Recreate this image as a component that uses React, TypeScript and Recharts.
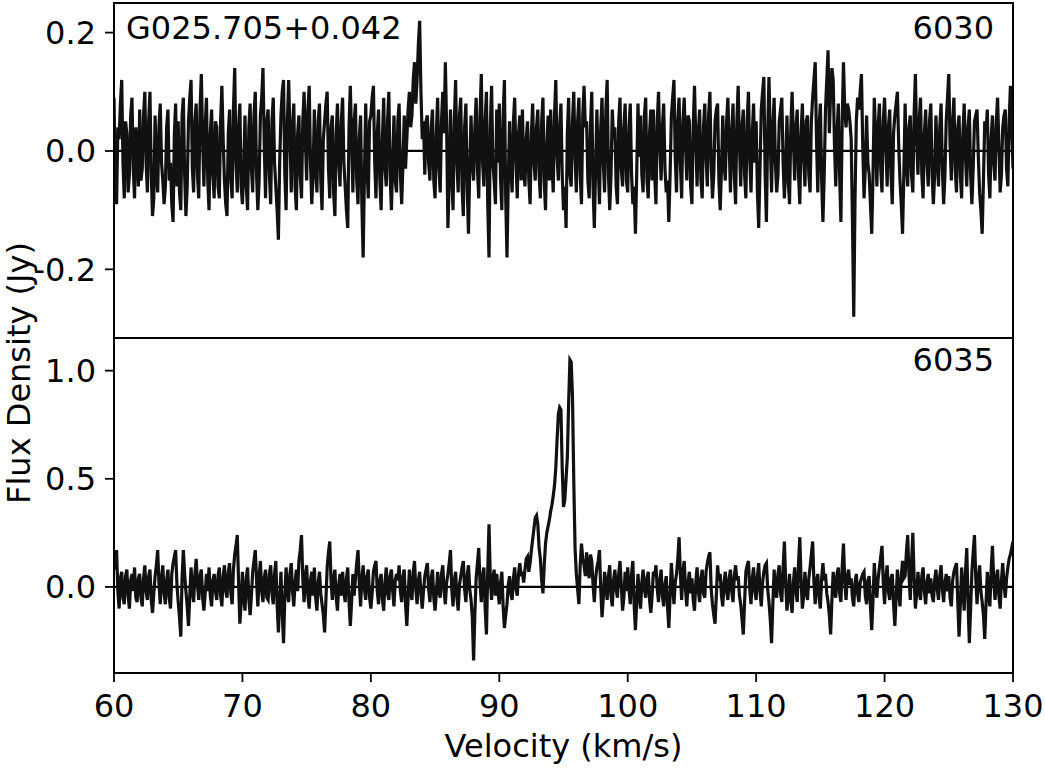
import { LineChart, Line, XAxis, YAxis, ReferenceLine, ReferenceArea } from "recharts";

// channel grid (km/s)
const V_START = 60;
const V_STEP = 0.1;

const velTicks = [60, 70, 80, 90, 100, 110, 120, 130];
const topTicks = [-0.2, 0, 0.2];
const bottomTicks = [0, 0.5, 1.0];

const sourceName = "G025.705+0.042";
const topFreq = "6030";
const bottomFreq = "6035";

// 6030 MHz spectrum (Jy), one value per channel, 2 km/s per row
const flux6030 = [
  0.09, -0.06, -0.09, 0.04, 0.02, 0.08, 0.12, -0.02, -0.08, 0.05, 0.03, -0.07, -0.04, 0.06, 0.09, -0.03, -0.08, 0.04, 0.01, -0.06,
  0.07, -0.05, -0.03, 0.06, 0.10, -0.02, -0.07, 0.05, 0.10, -0.04, -0.11, -0.08, 0.06, -0.03, -0.07, 0.04, 0.08, -0.02, -0.05, -0.09,
  -0.06, 0.04, 0.07, -0.05, -0.02, -0.09, -0.12, 0.03, 0.08, -0.06, 0.05, -0.07, -0.10, 0.06, 0.09, -0.04, -0.11, -0.06, 0.05, 0.09,
  0.12, -0.03, -0.07, 0.05, 0.08, -0.04, -0.08, 0.07, 0.13, 0.02, -0.06, 0.04, 0.09, -0.05, -0.10, 0.03, 0.07, -0.04, -0.08, 0.05,
  0.04, -0.06, -0.08, 0.05, 0.11, 0.02, -0.05, -0.09, -0.11, 0.03, 0.07, -0.05, -0.08, 0.07, 0.14, -0.02, -0.07, 0.04, 0.08, -0.06,
  -0.09, -0.03, 0.06, -0.06, -0.10, 0.04, 0.08, -0.03, -0.07, 0.06, 0.10, -0.04, -0.10, -0.05, 0.06, 0.09, 0.14, 0.01, -0.08, 0.05,
  0.07, -0.04, -0.09, 0.05, 0.09, -0.02, -0.06, -0.10, -0.15, -0.02, 0.06, 0.10, 0.12, -0.04, -0.10, 0.05, 0.12, 0.03, -0.07, 0.04,
  0.08, -0.06, -0.10, 0.03, 0.06, -0.04, -0.08, 0.05, 0.10, 0.02, -0.05, 0.07, 0.11, -0.02, -0.09, -0.04, 0.07, -0.03, -0.07, 0.05,
  0.08, -0.05, -0.10, 0.02, 0.05, 0.08, 0.10, -0.03, -0.08, 0.04, 0.06, -0.07, -0.11, 0.03, 0.08, -0.02, -0.06, 0.05, 0.09, -0.02,
  -0.06, -0.10, -0.13, 0.04, 0.11, 0.02, -0.07, 0.05, 0.08, -0.05, -0.09, 0.02, 0.06, -0.09, -0.18, -0.04, 0.08, -0.03, -0.08, 0.05,
  0.06, 0.09, 0.11, -0.02, -0.08, 0.03, 0.07, -0.05, -0.10, 0.02, 0.09, -0.03, -0.06, 0.05, 0.10, -0.04, -0.10, -0.02, 0.06, -0.05,
  -0.07, 0.05, 0.08, -0.04, -0.09, -0.02, 0.06, -0.03, 0.02, 0.07, 0.10, 0.04, 0.06, 0.12, 0.15, 0.08, 0.12, 0.18, 0.22, 0.10,
  0.02, 0.05, -0.04, 0.05, 0.06, -0.02, -0.05, 0.04, 0.07, -0.05, -0.08, 0.03, 0.09, -0.03, -0.07, 0.05, 0.10, 0.03, 0.15, 0.04,
  -0.13, -0.05, 0.07, -0.04, -0.10, 0.05, 0.12, -0.02, -0.07, 0.06, 0.09, -0.06, -0.11, 0.04, 0.08, -0.06, -0.14, -0.03, 0.06, -0.02,
  -0.05, 0.04, 0.09, -0.03, -0.08, 0.06, 0.13, -0.02, -0.06, 0.05, 0.10, -0.09, -0.18, 0.04, 0.11, -0.02, -0.05, -0.09, 0.07, -0.02,
  0.08, -0.05, -0.10, 0.06, 0.12, -0.08, -0.18, -0.05, 0.05, -0.03, -0.07, 0.05, 0.09, -0.02, -0.08, 0.03, 0.06, -0.05, 0.07, -0.03,
  -0.06, 0.02, 0.05, -0.05, -0.09, 0.03, 0.08, -0.02, -0.05, 0.04, 0.07, -0.04, -0.08, 0.05, 0.09, -0.05, -0.10, 0.01, 0.06, -0.05,
  0.07, -0.02, -0.07, 0.06, 0.12, -0.01, -0.05, 0.04, 0.08, -0.04, -0.10, -0.06, -0.13, 0.03, 0.09, -0.04, -0.06, 0.05, 0.10, -0.01,
  -0.07, 0.05, 0.09, -0.04, -0.09, 0.06, 0.11, 0.04, 0.05, -0.05, -0.08, 0.04, 0.10, -0.06, -0.13, -0.03, 0.07, -0.02, -0.09, 0.04,
  0.09, -0.02, -0.07, 0.07, 0.12, -0.04, -0.10, -0.04, 0.07, 0.02, 0.04, -0.06, -0.09, 0.05, 0.09, -0.03, -0.06, 0.04, 0.08, -0.05,
  -0.07, 0.04, 0.08, -0.04, -0.09, -0.06, -0.14, -0.04, 0.08, -0.01, 0.06, -0.04, -0.07, 0.06, 0.09, -0.05, -0.08, 0.03, 0.07, -0.05,
  0.07, -0.04, -0.09, 0.05, 0.10, 0.01, -0.05, 0.04, 0.08, -0.03, -0.07, -0.05, -0.12, -0.04, 0.06, 0.09, 0.12, -0.01, -0.07, 0.05,
  0.09, -0.02, -0.08, 0.05, 0.09, 0.01, -0.05, 0.06, 0.05, -0.06, -0.09, 0.04, 0.11, 0.02, -0.06, 0.03, 0.07, -0.05, -0.08, 0.04,
  0.08, -0.01, -0.06, 0.06, 0.10, -0.02, -0.08, -0.04, 0.05, 0.07, 0.08, -0.05, -0.10, -0.03, 0.06, -0.02, -0.05, 0.05, 0.09, 0.01,
  -0.07, 0.03, 0.08, -0.04, -0.09, 0.05, 0.11, 0.01, -0.06, 0.04, 0.07, -0.04, -0.08, 0.05, 0.10, -0.01, -0.07, 0.03, 0.08, -0.02,
  0.05, -0.07, -0.13, -0.03, 0.07, 0.10, 0.125, -0.04, -0.12, 0.03, 0.125, 0.02, -0.07, 0.04, 0.09, -0.02, -0.07, -0.04, 0.05, 0.07,
  0.09, -0.02, -0.08, -0.03, 0.06, -0.05, -0.09, 0.04, 0.10, 0.02, -0.05, 0.04, 0.07, -0.04, -0.09, 0.03, 0.08, -0.01, -0.06, 0.05,
  0.06, -0.04, -0.07, 0.05, 0.09, 0.12, 0.15, 0.02, -0.07, 0.04, 0.08, -0.05, -0.12, -0.04, 0.07, 0.12, 0.17, 0.03, 0.10, 0.14,
  0.12, 0.01, -0.06, 0.03, 0.08, -0.04, -0.12, 0.05, 0.15, 0.07, 0.04, 0.08, 0.07, 0.05, 0.02, -0.12, -0.28, -0.08, 0.05, 0.09,
  0.07, 0.10, 0.13, 0.01, -0.08, -0.03, 0.06, -0.02, -0.04, -0.09, -0.14, -0.04, 0.09, 0.03, -0.06, 0.04, 0.08, -0.03, -0.07, 0.05,
  0.09, 0.01, -0.06, 0.04, 0.07, -0.04, -0.09, 0.03, 0.06, 0.08, 0.10, 0.01, -0.05, -0.09, -0.14, -0.04, 0.08, -0.02, -0.06, 0.04,
  0.06, -0.04, -0.07, 0.06, 0.13, 0.02, -0.04, 0.05, 0.09, -0.04, -0.08, 0.03, 0.07, -0.02, -0.06, 0.05, 0.08, -0.04, -0.09, -0.04,
  0.06, -0.01, -0.06, 0.04, 0.08, -0.03, -0.09, -0.04, 0.05, 0.09, 0.13, 0.01, -0.05, 0.05, 0.09, -0.03, -0.07, 0.04, 0.06, -0.04,
  -0.08, 0.03, 0.08, -0.01, -0.06, 0.04, 0.07, -0.04, -0.09, -0.03, 0.05, 0.06, 0.07, -0.01, -0.07, -0.10, -0.14, -0.05, 0.05, 0.03,
  0.07, -0.04, -0.08, 0.02, 0.06, -0.02, -0.05, 0.05, 0.09, 0.01, -0.07, -0.04, 0.04, 0.06, 0.07, -0.03, -0.06, 0.05, 0.11, 0.04,
  -0.03,
];

// 6035 MHz spectrum (Jy)
const flux6035 = [
  0.15, 0.08, 0.17, -0.02, -0.10, 0.04, 0.07, -0.05, -0.08, 0.05, 0.08, -0.04, -0.10, 0.03, 0.06, -0.02, 0.09, -0.05, -0.07, 0.04,
  0.06, -0.05, -0.09, 0.04, 0.10, -0.02, -0.06, 0.05, 0.08, -0.06, -0.12, -0.03, 0.05, 0.10, 0.17, 0.02, -0.08, 0.04, 0.10, -0.03,
  -0.08, 0.03, 0.08, -0.05, -0.10, 0.06, 0.11, 0.14, 0.17, 0.01, -0.07, -0.14, -0.23, 0.04, 0.17, 0.06, -0.02, -0.09, -0.18, -0.04,
  0.09, -0.02, -0.07, 0.06, 0.13, 0.01, -0.06, 0.05, 0.08, -0.05, -0.11, -0.03, 0.06, -0.02, 0.09, -0.04, -0.09, 0.03, 0.06, -0.02,
  -0.06, 0.05, 0.09, -0.04, -0.09, 0.05, 0.10, -0.02, -0.05, 0.07, 0.11, -0.03, -0.08, 0.08, 0.15, 0.19, 0.24, 0.02, -0.17, -0.07,
  0.07, -0.05, -0.11, 0.04, 0.09, -0.06, -0.13, -0.04, 0.07, 0.12, 0.17, 0.03, -0.09, 0.05, 0.12, -0.02, -0.07, 0.04, 0.08, -0.05,
  -0.06, 0.06, 0.10, -0.03, -0.08, 0.06, 0.12, -0.08, -0.21, -0.06, 0.07, -0.12, -0.26, -0.05, 0.09, -0.02, -0.07, 0.06, 0.11, -0.02,
  -0.09, 0.02, 0.08, -0.02, 0.12, 0.17, 0.24, 0.04, -0.07, 0.05, 0.10, -0.04, -0.10, 0.03, 0.07, -0.04, 0.09, -0.05, -0.11, 0.02,
  0.07, -0.03, -0.08, -0.13, -0.21, -0.06, 0.09, 0.16, 0.21, 0.03, -0.06, 0.04, 0.08, -0.05, -0.11, 0.01, 0.06, -0.04, 0.07, -0.02,
  -0.07, 0.04, 0.09, -0.07, -0.18, -0.07, 0.06, -0.04, 0.04, 0.11, 0.17, 0.02, -0.09, 0.04, 0.10, -0.01, -0.06, 0.05, 0.08, -0.05,
  -0.10, -0.03, 0.07, 0.10, 0.12, -0.02, -0.08, 0.03, 0.06, -0.06, -0.11, 0.02, 0.09, -0.03, -0.06, 0.05, 0.08, -0.02, -0.09, 0.03,
  0.06, 0.03, 0.10, -0.02, -0.07, 0.05, 0.08, -0.08, -0.18, -0.05, 0.08, -0.02, -0.06, 0.07, 0.12, -0.01, -0.08, 0.03, 0.07, -0.03,
  -0.10, -0.02, 0.05, 0.08, 0.11, -0.01, -0.07, 0.04, 0.08, -0.05, -0.11, -0.03, 0.07, -0.02, -0.05, 0.06, 0.10, -0.02, -0.08, 0.02,
  0.06, 0.11, 0.17, -0.01, -0.09, 0.03, 0.07, -0.05, -0.11, 0.01, 0.05, 0.09, 0.12, -0.01, -0.07, 0.05, 0.10, -0.01, -0.06, -0.14,
  -0.34, -0.12, 0.04, 0.11, 0.18, 0.02, -0.07, 0.05, 0.09, -0.10, -0.22, 0.07, 0.29, 0.04, -0.06, 0.04, 0.08, -0.04, 0.06, -0.02,
  -0.08, 0.02, 0.07, -0.09, -0.19, -0.13, -0.08, 0.01, 0.05, -0.03, -0.06, 0.04, 0.09, -0.01, -0.04, 0.06, 0.11, 0.05, 0.07, 0.02,
  0.08, 0.13, 0.14, 0.07, 0.11, 0.17, 0.22, 0.27, 0.32, 0.33, 0.29, 0.18, 0.13, 0.03, -0.03, 0.10, 0.20, 0.25, 0.28, 0.31,
  0.35, 0.38, 0.42, 0.47, 0.55, 0.68, 0.80, 0.83, 0.82, 0.55, 0.37, 0.40, 0.50, 0.60, 0.85, 1.05, 1.04, 0.88, 0.49, 0.18,
  0.06, -0.01, -0.08, 0.10, 0.20, 0.13, 0.10, 0.05, 0.16, 0.08, 0.04, 0.15, 0.12, 0.01, -0.07, 0.04, 0.09, 0.12, 0.17, -0.01,
  -0.14, -0.05, 0.07, 0.01, -0.06, 0.05, 0.10, -0.04, -0.09, 0.03, 0.08, -0.01, -0.05, 0.06, 0.12, 0.01, -0.11, -0.05, 0.07, -0.02,
  0.09, -0.01, -0.08, 0.06, 0.12, -0.08, -0.20, -0.07, 0.06, -0.04, -0.10, 0.02, 0.08, -0.01, -0.05, 0.04, 0.07, -0.06, -0.12, -0.04,
  0.07, 0.05, 0.10, -0.01, -0.07, 0.03, 0.08, -0.04, -0.09, 0.01, 0.05, -0.09, -0.19, -0.04, 0.11, 0.01, -0.08, 0.02, 0.06, 0.13,
  0.23, 0.06, -0.06, 0.07, 0.12, -0.01, -0.09, 0.02, 0.07, -0.03, 0.04, -0.06, -0.11, 0.02, 0.09, -0.02, -0.07, 0.04, 0.08, -0.03,
  -0.05, 0.07, 0.11, 0.14, 0.16, -0.01, -0.08, -0.13, -0.17, -0.04, 0.10, 0.03, 0.06, -0.04, -0.09, 0.02, 0.07, -0.02, -0.06, 0.04,
  0.08, -0.02, -0.07, 0.05, 0.10, 0.03, 0.05, -0.04, -0.08, -0.15, -0.22, -0.07, 0.07, 0.10, 0.12, -0.01, -0.08, 0.04, 0.09, -0.02,
  -0.06, 0.05, 0.11, -0.02, -0.09, 0.02, 0.07, 0.10, 0.11, -0.01, -0.07, -0.15, -0.26, -0.08, 0.08, -0.02, -0.05, 0.06, 0.10, -0.03,
  -0.07, 0.09, 0.21, 0.02, -0.11, -0.04, 0.06, -0.06, -0.12, 0.02, 0.09, -0.02, -0.07, 0.11, 0.23, 0.03, -0.10, -0.04, 0.07, -0.02,
  -0.06, 0.04, 0.09, 0.15, 0.21, 0.02, -0.08, 0.03, 0.06, -0.05, -0.10, 0.04, 0.11, 0.03, 0.06, -0.03, -0.07, -0.13, -0.22, -0.06,
  0.07, -0.02, -0.05, 0.06, 0.09, -0.03, -0.07, 0.09, 0.20, 0.03, -0.06, 0.05, 0.08, 0.01, 0.04, -0.05, -0.09, 0.02, 0.06, -0.03,
  -0.07, 0.02, 0.04, 0.06, 0.07, -0.04, -0.08, 0.03, 0.05, -0.09, -0.20, -0.06, 0.11, 0.01, -0.05, 0.04, 0.09, 0.14, 0.19, 0.02,
  -0.08, 0.04, 0.10, -0.02, -0.06, 0.04, 0.06, -0.08, -0.18, -0.05, 0.08, -0.02, -0.09, 0.05, 0.12, 0.04, 0.05, 0.16, 0.24, 0.06,
  -0.06, 0.11, 0.25, 0.04, -0.10, -0.03, 0.07, -0.02, -0.06, 0.05, 0.09, -0.02, -0.08, 0.02, 0.06, -0.03, 0.04, -0.04, -0.07, 0.03,
  0.08, -0.01, -0.06, 0.05, 0.10, -0.01, -0.07, 0.02, 0.06, -0.02, 0.05, -0.05, -0.09, 0.03, 0.07, 0.09, 0.11, -0.07, -0.23, -0.08,
  0.09, -0.02, -0.11, 0.07, 0.18, -0.07, -0.26, -0.10, 0.07, 0.16, 0.24, 0.04, -0.08, 0.04, 0.10, -0.02, -0.07, -0.13, -0.24, -0.08,
  0.07, -0.03, -0.09, 0.08, 0.19, 0.03, -0.06, 0.04, 0.08, -0.04, -0.10, 0.03, 0.11, 0.01, -0.05, 0.04, 0.09, 0.13, 0.15, 0.18,
  0.21,
];

const FONT = "'DejaVu Sans', sans-serif";
const TICK = { fontSize: 32, fill: "#000", fontFamily: FONT };
const AXIS = { stroke: "#000", strokeWidth: 1.8 };
const LINE = "#111";

const toRows = (arr: number[]) =>
  arr.map((f, i) => ({ v: +(V_START + i * V_STEP).toFixed(2), f }));

const topData = toRows(flux6030);
const bottomData = toRows(flux6035);

const TOP_DOMAIN: [number, number] = [-0.316, 0.25];
const BOTTOM_DOMAIN: [number, number] = [-0.398, 1.151];

export default function App() {
  return (
    <div style={{ position: "absolute", left: 0, top: 0, width: 1045, height: 768, background: "#fff", overflow: "hidden" }}>
      {/* upper panel: 6030 */}
      <div style={{ position: "absolute", left: 0, top: 0 }}>
        <LineChart width={1045} height={338} data={topData} margin={{ top: 3, right: 32, bottom: 0, left: 0 }}>
          <XAxis dataKey="v" type="number" domain={[60, 130]} ticks={velTicks} allowDataOverflow hide />
          <YAxis type="number" domain={TOP_DOMAIN} ticks={topTicks} allowDataOverflow width={114}
            tickSize={9} tickMargin={9} tick={TICK} tickLine={AXIS} axisLine={AXIS}
            tickFormatter={(v: number) => v.toFixed(1)} />
          <ReferenceLine y={0} stroke="#000" strokeWidth={2.2} />
          <Line dataKey="f" type="linear" stroke={LINE} strokeWidth={3.2} strokeLinejoin="miter"
            dot={false} isAnimationActive={false} />
          <ReferenceArea x1={60} x2={130} y1={TOP_DOMAIN[0]} y2={TOP_DOMAIN[1]} fill="none" fillOpacity={0}
            stroke="#000" strokeWidth={2} ifOverflow="visible" />
        </LineChart>
      </div>

      {/* lower panel: 6035 */}
      <div style={{ position: "absolute", left: 0, top: 338 }}>
        <LineChart width={1045} height={430} data={bottomData} margin={{ top: 0, right: 32, bottom: 0, left: 0 }}>
          <XAxis dataKey="v" type="number" domain={[60, 130]} ticks={velTicks} allowDataOverflow
            height={95} tickSize={9} tickMargin={12} tick={TICK} tickLine={AXIS} axisLine={AXIS}
            label={{ value: "Velocity (km/s)", position: "insideBottom", offset: 11, fontSize: 32, fill: "#000", fontFamily: FONT }} />
          <YAxis type="number" domain={BOTTOM_DOMAIN} ticks={bottomTicks} allowDataOverflow width={114}
            tickSize={9} tickMargin={9} tick={TICK} tickLine={AXIS} axisLine={AXIS}
            tickFormatter={(v: number) => v.toFixed(1)} />
          <ReferenceLine y={0} stroke="#000" strokeWidth={2.2} />
          <Line dataKey="f" type="linear" stroke={LINE} strokeWidth={3.2} strokeLinejoin="miter"
            dot={false} isAnimationActive={false} />
          <ReferenceArea x1={60} x2={130} y1={BOTTOM_DOMAIN[0]} y2={BOTTOM_DOMAIN[1]} fill="none" fillOpacity={0}
            stroke="#000" strokeWidth={2} ifOverflow="visible" />
        </LineChart>
      </div>

      {/* shared y label and panel annotations */}
      <svg width={1045} height={768} style={{ position: "absolute", left: 0, top: 0, pointerEvents: "none" }}
        fontFamily={FONT} fontSize={32} fill="#000">
        <text transform="translate(30,373) rotate(-90)" textAnchor="middle">Flux Density (Jy)</text>
        <text x={126} y={39}>{sourceName}</text>
        <text x={994} y={39} textAnchor="end">{topFreq}</text>
        <text x={994} y={371} textAnchor="end">{bottomFreq}</text>
      </svg>
    </div>
  );
}
